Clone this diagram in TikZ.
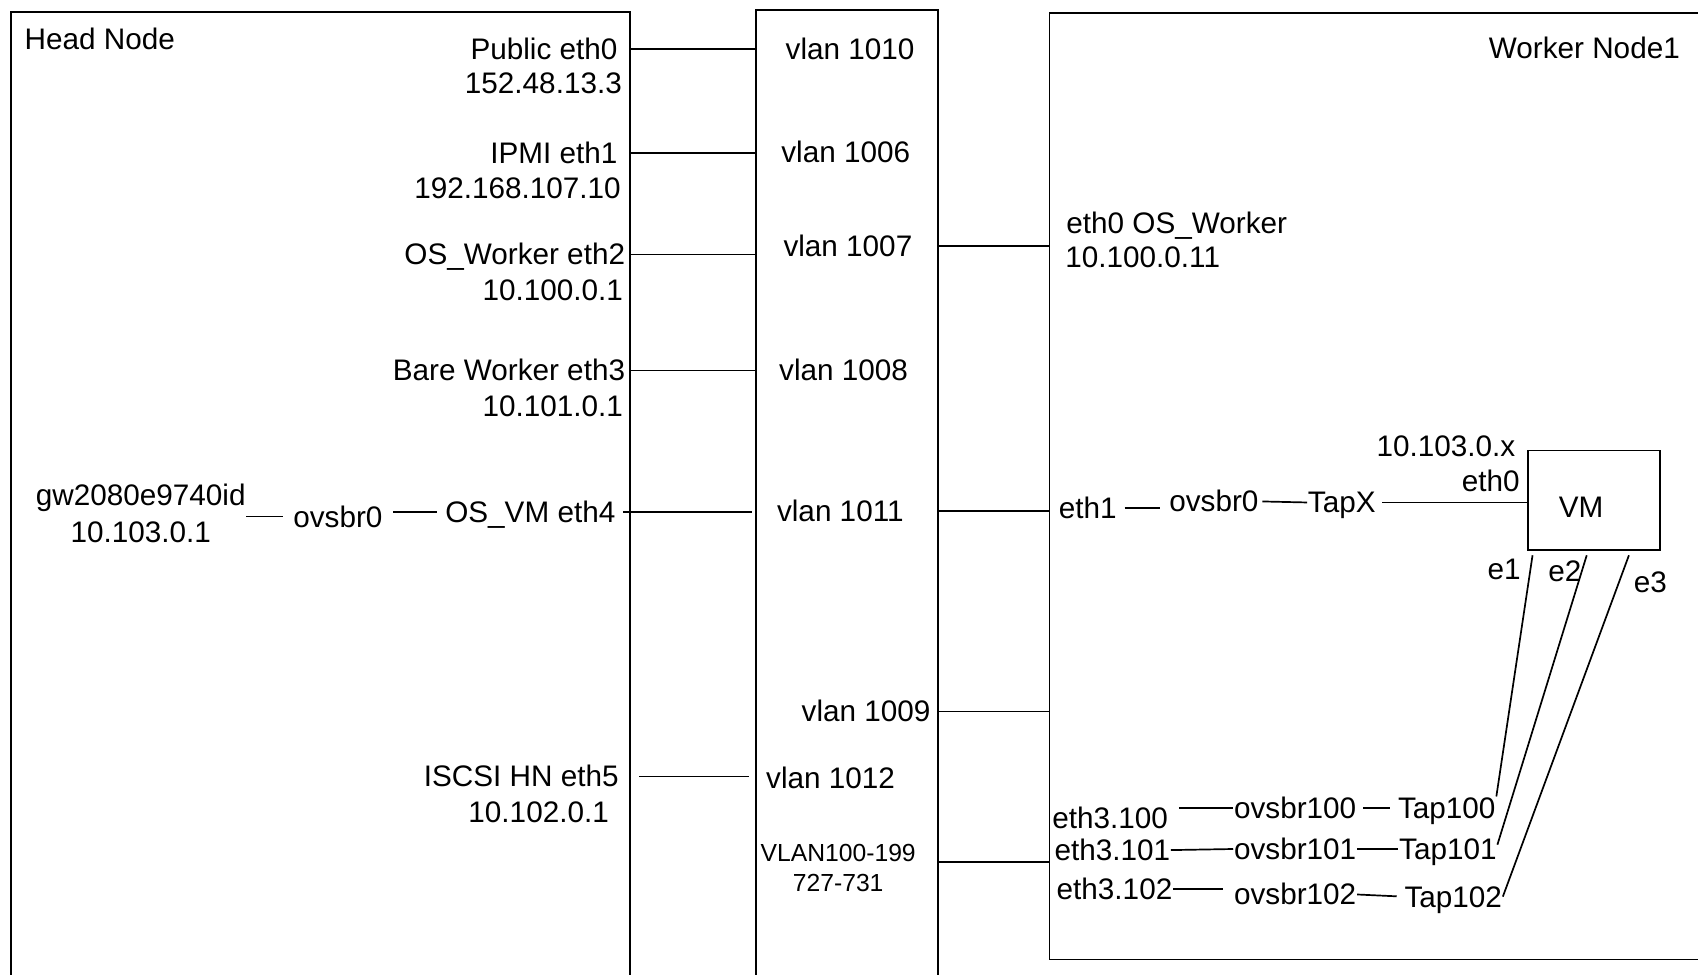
\documentclass[tikz,border=0pt]{standalone}
\usepackage{fontspec}
\setmainfont{Liberation Sans}
\usetikzlibrary{fit}

\begin{document}
\begin{tikzpicture}[x=1.083pt, y=-1.083pt, line width=1.7pt,
  every node/.style={inner sep=0pt, text height=21pt, text depth=0pt, font=\fontsize{29.7}{34}\selectfont},
  box/.style={draw, fit={#1}, inner sep=0pt},
  small/.style={text height=17.8pt, font=\fontsize{24.7}{30}\selectfont}]
\useasboundingbox (0,0) rectangle (1568,900);
\clip (0,0) rectangle (1568,900);

% Head node
\node[box={(10,11) (582,960)}] (HN) {};
\node[anchor=west] (hnt) at (22,36) {Head Node};
\node[anchor=east] (pub) at (571,45) {Public eth0};
\node[anchor=east] (pubip) at (575,77) {152.48.13.3};
\node[anchor=east] (ipmi) at (571,141) {IPMI eth1};
\node[anchor=east] (ipmiip) at (574,174) {192.168.107.10};
\node[anchor=east] (osw) at (578,235) {OS\_Worker eth2};
\node[anchor=east] (oswip) at (576,268) {10.100.0.1};
\node[anchor=east] (bare) at (578,342) {Bare Worker eth3};
\node[anchor=east] (bareip) at (576,375) {10.101.0.1};
\node (gw) at (130,457) {gw2080e9740id};
\node (gwip) at (130,491) {10.103.0.1};
\node (obr) at (312,477) {ovsbr0};
\node[anchor=east] (osvm) at (569,473) {OS\_VM eth4};
\node[anchor=east] (iscsi) at (572,717) {ISCSI HN eth5};
\node[anchor=east] (iscsiip) at (563,750) {10.102.0.1};

% Switch
\node[box={(698,9) (866,960)}] (SW) {};
\node (v1010) at (785,45) {vlan 1010};
\node (v1006) at (781,140) {vlan 1006};
\node (v1007) at (783,227) {vlan 1007};
\node (v1008) at (779,342) {vlan 1008};
\node (v1011) at (776,472) {vlan 1011};
\node[anchor=east] (v1009) at (860,657) {vlan 1009};
\node (v1012) at (767,718) {vlan 1012};
\node[small] (vr1) at (774,787) {VLAN100-199};
\node[small] (vr2) at (774,815) {727-731};

% Worker node
\node[box={(969,12) (1600,886)}] (WN) {};
\node[anchor=east] (wnt) at (1552,44) {Worker Node1};
\node[anchor=west] (weth0) at (984,206) {eth0 OS\_Worker};
\node[anchor=west] (weth0ip) at (983,237) {10.100.0.11};
\node[anchor=west] (weth1) at (977,469) {eth1};
\node (wbr0) at (1121,463) {ovsbr0};
\node (tapx) at (1239,464) {TapX};
\node[anchor=east] (vmip) at (1400,412) {10.103.0.x};
\node[anchor=east] (vmeth0) at (1404,444) {eth0};
\node[box={(1411,416) (1533,508)}] (VM) {};
\node (vmt) at (1460,468) {VM};
\node (e1) at (1389,525) {e1};
\node (e2) at (1445,527) {e2};
\node (e3) at (1524,537) {e3};
\node[anchor=west] (e100) at (971,755) {eth3.100};
\node[anchor=west] (e101) at (973,785) {eth3.101};
\node[anchor=west] (e102) at (975,821) {eth3.102};
\node (br100) at (1196,746) {ovsbr100};
\node (br101) at (1196,784) {ovsbr101};
\node (br102) at (1196,826) {ovsbr102};
\node (t100) at (1336,746) {Tap100};
\node (t101) at (1337,784) {Tap101};
\node (t102) at (1342,828) {Tap102};

% head node to switch
\draw (HN.east |- pub) -- (SW.west |- pub);
\draw (HN.east |- ipmi) -- (SW.west |- ipmi);
\draw (HN.east |- osw) -- (SW.west |- osw);
\draw (HN.east |- bare) -- (SW.west |- bare);
\draw[shorten <=7pt, shorten >=3pt] (osvm.east) -- (SW.west |- osvm.east);
\draw[shorten <=8pt, shorten >=6pt] (HN.east |- iscsi) -- (SW.west |- iscsi);
\draw[shorten >=9pt] (gw.east |- obr) -- (obr.west);
\draw[shorten <=10pt, shorten >=7pt] (obr.east |- osvm) -- (osvm.west);

% switch to worker node
\draw (SW.east |- v1007) -- (WN.west |- v1007);
\draw (SW.east |- v1011) -- (WN.west |- v1011);
\draw (SW.east |- v1009) -- (WN.west |- v1009);
\draw (SW.east |- vr1.south) -- (WN.west |- vr1.south);

% inside worker node
\draw[shorten <=7pt, shorten >=9pt] (weth1.east) -- (weth1.east -| wbr0.west);
\draw[shorten <=3pt] (wbr0.east) -- (tapx.west);
\draw[shorten <=6pt] (tapx.east) -- (VM.west |- tapx.east);
\draw ([xshift=5.4pt, yshift=-4.3pt]VM.south west) -- (t100.north east);
\draw ([xshift=59.6pt, yshift=-4.3pt]VM.south west) -- ([yshift=-7pt]t101.north east);
\draw ([xshift=101.8pt, yshift=-4.3pt]VM.south west) -- (t102.east);
\draw[shorten <=10pt] (e100.east |- br100) -- (br100.west);
\draw[shorten <=6pt, shorten >=7pt] (br100.east) -- (t100.west);
\draw (e101.east) -- (br101.west);
\draw (br101.east) -- (t101.west);
\draw[shorten >=10pt] (e102.east) -- (e102.east -| br102.west);
\draw[shorten >=7pt] (br102.east) -- (t102.west);
\end{tikzpicture}
\end{document}
